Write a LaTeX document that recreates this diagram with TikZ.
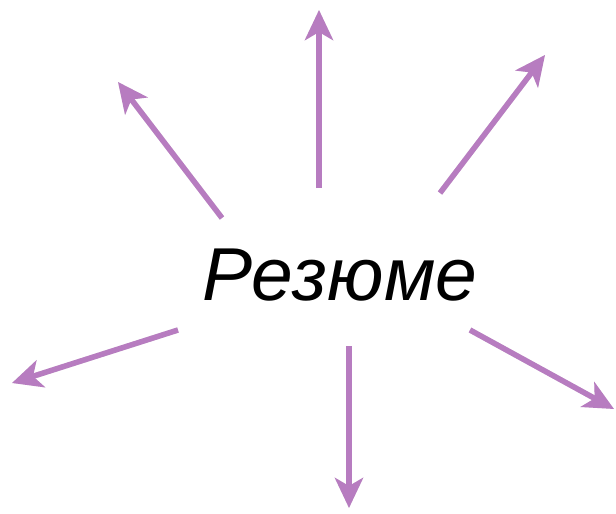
\documentclass[tikz,border=0pt]{standalone}
\usepackage{fontspec}
\setmainfont{Liberation Sans}
\usetikzlibrary{arrows.meta}
\definecolor{arrowpurple}{RGB}{183,124,192}
\tikzset{
  ray/.style={draw=arrowpurple, line width=5.5pt, -{Stealth[length=30pt,width=28pt,inset=8pt]}},
  rayshadow/.style={draw=black!30, opacity=0.35, line width=5.5pt, -{Stealth[length=30pt,width=28pt,inset=8pt]}},
  title/.style={font=\itshape\fontsize{75}{80}\selectfont, text=black, inner sep=0pt}
}
\begin{document}
\begin{tikzpicture}[x=1pt,y=-1pt]
\useasboundingbox (0,0) rectangle (616,514);
\node[title] (c) at (340,275) {Резюме};
\coordinate (s1) at (319,188); \coordinate (e1) at (319,10);
\coordinate (s2) at (222,218); \coordinate (e2) at (118,82);
\coordinate (s3) at (440,193); \coordinate (e3) at (545,55);
\coordinate (s4) at (178,330); \coordinate (e4) at (12,383);
\coordinate (s5) at (349,346); \coordinate (e5) at (349,508);
\coordinate (s6) at (470,330); \coordinate (e6) at (614,409);
\begin{scope}[shift={(2,4)}]
\foreach \i in {1,...,6} \draw[rayshadow] (s\i) -- (e\i);
\end{scope}
\foreach \i in {1,...,6} \draw[ray] (s\i) -- (e\i);
\end{tikzpicture}
\end{document}
